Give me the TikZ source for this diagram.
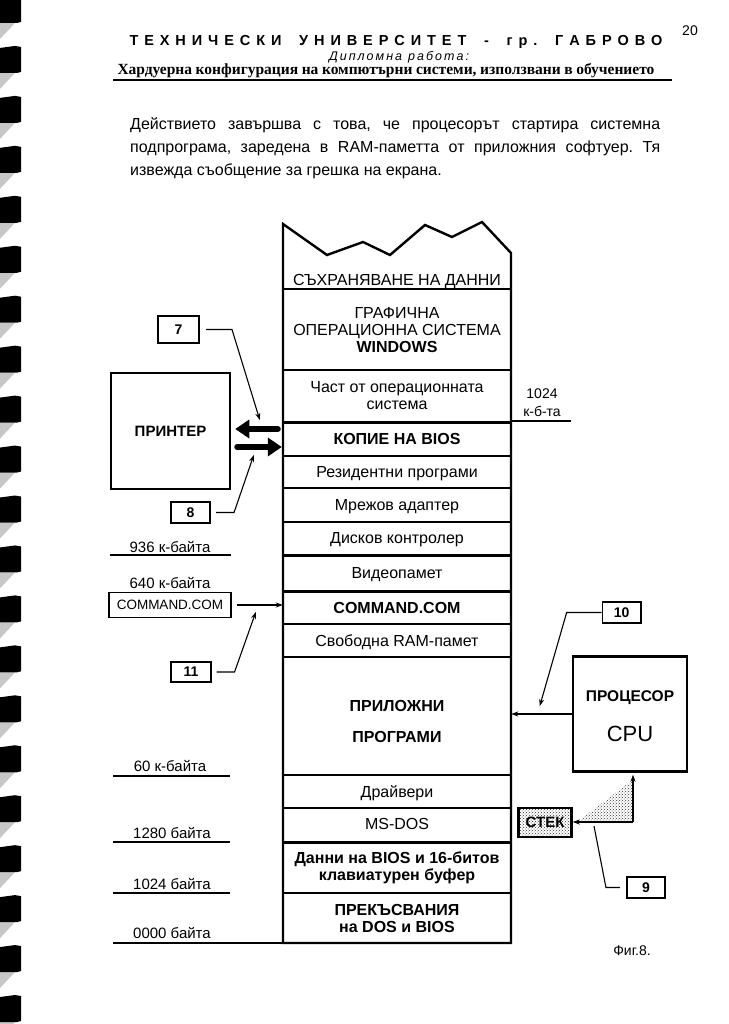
\documentclass[tikz,border=0pt]{standalone}
\usepackage{fontspec}
\setmainfont{Liberation Sans}
\newfontfamily\serifbf{Liberation Serif}
\usetikzlibrary{arrows.meta,calc,patterns}
\newcommand\lsp{\hspace{0pt plus 1fil}}
\frenchspacing
\begin{document}
\begin{tikzpicture}[x=1pt,y=-1pt,
  lbl/.style={inner sep=0pt, font=\fontsize{15}{17}\selectfont, text height=12pt, text depth=1.3pt},
  cell/.style={inner sep=0pt, minimum width=228pt, align=center, font=\fontsize{16}{17}\selectfont},
  one/.style={text height=13pt, text depth=1.6pt},
  numbox/.style={draw, line width=1.6pt, inner sep=0pt, font=\bfseries\fontsize{14}{16}\selectfont},
  bigbox/.style={draw, line width=2.5pt, inner sep=0pt},
  conn/.style={line width=1.1pt},
  arr/.style={line width=1.1pt, -{Stealth[length=7pt,width=5pt]}},
  fat/.style={line width=6pt, line cap=round, -{Triangle[length=14pt,width=18pt]}},
  sep/.style={line width=1.4pt},
  tsep/.style={line width=3pt},
  dots/.style={pattern=crosshatch dots, pattern color=black!80}
]
\useasboundingbox (0,0) rectangle (728,1024);
\fill[white] (0,0) rectangle (728,1024);

% binding marks
\foreach \k in {0,...,20}{
  \pgfmathsetmacro\yb{23+49.95*\k}
  \fill[black!22] (0,\yb) -- (15,\yb) -- (0,\yb+16) -- cycle;
  \fill[black] (0,\yb-25) -- (15,\yb-27) -- (21,\yb-26) -- (21,\yb-1) -- (17,\yb) -- (0,\yb) -- cycle;
}

% header
\node[inner sep=0pt] (pnum) at (690,31) {\fontsize{14}{16}\selectfont 20};
\node[inner sep=0pt] (hdr1) at (396,42) {\bfseries\fontsize{14.5}{16}\selectfont\makebox[533pt][s]{Т\lsp Е\lsp Х\lsp Н\lsp И\lsp Ч\lsp Е\lsp С\lsp К\lsp И\lsp\lsp\lsp У\lsp Н\lsp И\lsp В\lsp Е\lsp Р\lsp С\lsp И\lsp Т\lsp Е\lsp Т\lsp\lsp\lsp -\lsp\lsp\lsp г\lsp р\lsp .\lsp\lsp\lsp Г\lsp А\lsp Б\lsp Р\lsp О\lsp В\lsp О}};
\node[inner sep=0pt] (hdr2) at (399,57) {\fontsize{12.5}{14}\selectfont\itshape\makebox[140pt][s]{Д\lsp и\lsp п\lsp л\lsp о\lsp м\lsp н\lsp а\lsp\lsp\lsp р\lsp а\lsp б\lsp о\lsp т\lsp а\lsp :}};
\node[inner sep=0pt] (hdr3) at (386,71) {\serifbf\bfseries\fontsize{15.5}{17}\selectfont\makebox[537pt][s]{Хардуерна конфигурация на компютърни системи, използвани в обучението}};
\draw[line width=1.8pt] (113,80) -- (672,80);

% paragraph
\node[inner sep=0pt, anchor=base west, font=\fontsize{16}{18}\selectfont] (p1) at (130,130) {\makebox[530pt][s]{Действието завършва с това, че процесорът стартира системна}};
\node[inner sep=0pt, anchor=base west, font=\fontsize{16}{18}\selectfont] (p2) at (130,153) {\makebox[530pt][s]{подпрограма, заредена в RAM-паметта от приложния софтуер. Тя}};
\node[inner sep=0pt, anchor=base west, font=\fontsize{16}{18}\selectfont] (p3) at (130,176) {извежда съобщение за грешка на екрана.};

% memory stack
\draw[line width=2.4pt, line join=miter] (283,943) -- (283,224) -- (327,255) -- (363,242) -- (390,255) -- (425,225) -- (452,237) -- (482,222) -- (511,253) -- (511,943) -- cycle;
\foreach \yy in {289,370,456,488,522,624,657,775,808,893} \draw[sep] (283,\yy) -- (511,\yy);
\foreach \yy in {422,555,591,842} \draw[tsep] (283,\yy) -- (511,\yy);

\node[cell,one] (save) at (397,280) {СЪХРАНЯВАНЕ НА ДАННИ};
\node[cell] (win) at (397,330) {ГРАФИЧНА\\ОПЕРАЦИОННА СИСТЕМА\\\textbf{WINDOWS}};
\node[cell] (part) at (397,396) {Част от операционната\\система};
\node[cell,one,font=\bfseries\fontsize{16}{17}\selectfont] (bios) at (397,439) {КОПИЕ НА BIOS};
\node[cell,one] (res) at (397,472) {Резидентни програми};
\node[cell,one] (net) at (397,505) {Мрежов адаптер};
\node[cell,one] (disk) at (397,537.5) {Дисков контролер};
\node[cell,one] (video) at (397,573) {Видеопамет};
\node[cell,one,font=\bfseries\fontsize{16}{17}\selectfont] (command) at (397,607.5) {COMMAND.COM};
\node[cell,one] (free) at (397,640.5) {Свободна RAM-памет};
\node[cell,font=\bfseries\fontsize{16}{17}\selectfont] (apps) at (397,721.5) {ПРИЛОЖНИ\\[14pt]ПРОГРАМИ};
\node[cell,one] (drv) at (397,791.5) {Драйвери};
\node[cell,one] (msdos) at (397,824) {MS-DOS};
\node[cell,font=\bfseries\fontsize{16}{17}\selectfont] (bdata) at (397,867.5) {Данни на BIOS и 16-битов\\клавиатурен буфер};
\node[cell,font=\bfseries\fontsize{16}{17}\selectfont] (intr) at (397,918) {ПРЕКЪСВАНИЯ\\на DOS и BIOS};

% left address labels
\node[lbl] (l936) at (170,547) {936 к-байта};
\draw[sep] (110,555) -- (231,555);
\node[lbl] (l640) at (170,583) {640 к-байта};
\node[lbl] (l60) at (170,766) {60 к-байта};
\draw[sep] (113,776) -- (230,776);
\node[lbl] (l1280) at (172,833) {1280 байта};
\draw[sep] (113,842) -- (230,842);
\node[lbl] (l1024) at (172,884) {1024 байта};
\draw[sep] (113,893) -- (230,893);
\node[lbl] (l0000) at (172,933) {0000 байта};
\draw[sep] (113,943) -- (283,943);

% right label
\node[inner sep=0pt, align=center, font=\fontsize{14}{18}\selectfont] (r1024) at (542,403) {1024\\к-б-та};
\draw[sep] (511,421) -- (571,421);

% printer
\node[bigbox, minimum width=119pt, minimum height=116pt, font=\bfseries\fontsize{15}{17}\selectfont] (printer) at (170.5,431) {ПРИНТЕР};
\draw[fat] ($(bios.west)+(-5,-10)$) -- ($(bios.west -| printer.east)+(4,-10)$);
\draw[fat] ($(bios.west -| printer.east)+(6,8)$) -- ($(bios.west)+(-1,8)$);

% command.com box
\node[draw, line width=1.6pt, inner sep=0pt, minimum width=122pt, minimum height=25pt, font=\fontsize{13.5}{15}\selectfont] (cmdbox) at (170,605) {COMMAND.COM};
\draw[arr] ([xshift=5pt]cmdbox.east) -- (cmdbox.east -| command.west);

% numbered callouts
\node[numbox, minimum width=41.4pt, minimum height=27.4pt] (n7) at (178.5,329.5) {7};
\node[numbox, minimum width=39.5pt, minimum height=21.5pt] (n8) at (190.5,512.5) {8};
\node[numbox, minimum width=39.5pt, minimum height=20.5pt] (n11) at (191,672) {11};
\node[numbox, minimum width=38.5pt, minimum height=20.5pt] (n10) at (621.7,612.5) {10};
\node[numbox, minimum width=38.5pt, minimum height=21.5pt] (n9) at (646,887.5) {9};

\draw[arr] ([xshift=6pt]n7.east) -- ++(26,0) -- ($(bios.west)+(-23,-19)$);
\draw[arr] ([xshift=5pt]n8.east) -- ++(18,0) -- ($(bios.west)+(-29,16)$);
\draw[arr] ([xshift=5pt]n11.east) -- ++(18,0) -- ($(cmdbox.east)+(24,7)$);

% CPU
\node[bigbox, minimum width=114pt, minimum height=115pt] (cpu) at (630,714) {};
\node[inner sep=0pt, font=\bfseries\fontsize{15.5}{17}\selectfont] (proc) at (630,698) {ПРОЦЕСОР};
\node[inner sep=0pt, font=\fontsize{22}{24}\selectfont] (cpulbl) at (630,734) {CPU};
\draw[arr] (cpu.west) -- (cpu.west -| apps.east);
\draw[arr] (n10.west) -- ++(-35,0) -- ($(cpu.west)+(-32,-8)$);

% stack (СТЕК)
\node[draw, line width=2.5pt, dots, inner sep=0pt, minimum width=53pt, minimum height=29pt, font=\bfseries\fontsize{15}{17}\selectfont] (stek) at (545,822.5) {СТЕК};
\coordinate (corner) at (633,822);
\fill[dots] ($(stek.east)+(5,-1)$) -- (corner) -- ($(corner |- cpu.south)+(0,7)$) -- cycle;
\draw[arr, shorten >=2pt] (corner) -- (corner |- cpu.south);
\draw[arr] (corner) -- (corner -| stek.east);
\draw[conn] ([xshift=-6pt]n9.west) -- ++(-14,0) -- ($(corner)+(-39,4)$);

\node[inner sep=0pt, font=\fontsize{14}{16}\selectfont] (fig) at (632,951) {Фиг.8.};
\end{tikzpicture}
\end{document}
